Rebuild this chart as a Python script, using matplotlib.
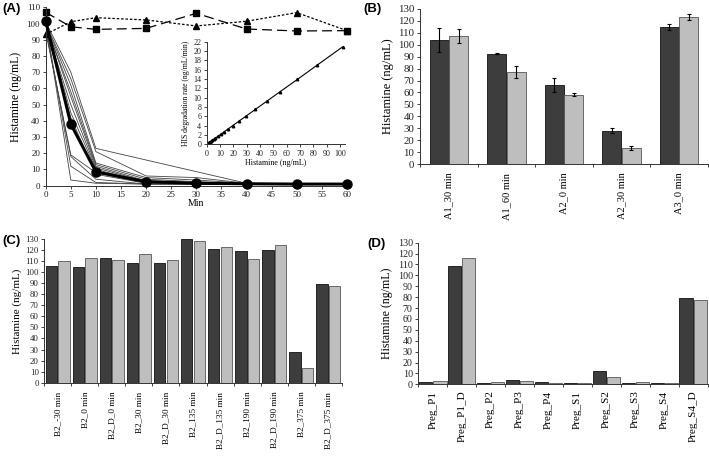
import numpy as np
import matplotlib
matplotlib.use("Agg")
import matplotlib.pyplot as plt

plt.rcParams['font.family'] = ['Liberation Serif', 'DejaVu Serif']
plt.rcParams['axes.linewidth'] = 0.7
plt.rcParams['axes.edgecolor'] = '#333333'

# ---- panel A: degradation time course ----
minutes = [0, 5, 10, 20, 30, 40, 50, 60]
ctrl_square = [106.9, 98.0, 96.4, 97.0, 106.3, 96.6, 95.4, 95.6]
ctrl_triangle = [93.3, 101.1, 103.6, 102.2, 98.5, 101.4, 106.7, 95.6]
mean_curve = [101.5, 38.0, 8.5, 2.5, 1.5, 1.2, 1.0, 1.0]
thin_times = [
    [0, 5, 10, 40, 50, 60],
    minutes, minutes, minutes, minutes, minutes,
    minutes, minutes, minutes, minutes, minutes, minutes,
]
thin_values = [
    [101, 70, 23, 1.5, 1.0, 1.0],
    [100, 66, 21, 6, 5, 1.5, 1.0, 1.0],
    [100, 62, 14, 5, 3.5, 1.5, 1.0, 1.0],
    [99, 58, 13, 4, 2.5, 1.2, 1.0, 1.0],
    [100, 55, 12, 3, 2, 1.0, 1.0, 1.0],
    [98, 50, 11, 2.5, 1.5, 1.0, 1.0, 1.0],
    [100, 45, 10, 2, 1.2, 1.0, 1.0, 1.0],
    [97, 42, 7, 1.5, 1.0, 1.0, 1.0, 1.0],
    [95, 19, 8, 1.5, 1.0, 1.0, 1.0, 1.0],
    [96, 18, 4, 1.0, 1.0, 1.0, 1.0, 1.0],
    [100, 12, 2, 1.0, 1.0, 1.0, 1.0, 1.0],
    [101, 3.5, 1.5, 1.0, 1.0, 1.0, 1.0, 1.0],
]
# inset: degradation rate vs histamine
inset_his = [0.3, 0.6, 1.0, 1.5, 2.0, 2.6, 3.3, 4.2, 5.2, 6.5, 8.3, 10.4, 13.0,
             16.0, 19.5, 24.0, 29.5, 36.5, 45.0, 55.0, 68.0, 83.0, 102.0]
inset_rate = [0.06, 0.12, 0.2, 0.3, 0.4, 0.53, 0.67, 0.86, 1.06, 1.33, 1.7, 2.13, 2.66,
              3.28, 4.0, 4.92, 6.05, 7.48, 9.22, 11.27, 13.9, 17.0, 20.9]

# ---- panel B ----
b_labels = ["A1_30 min", "A1_60 min", "A2_0 min", "A2_30 min", "A3_0 min"]
b_dark = [103.8, 92.4, 66.0, 28.1, 115.0]
b_dark_err = [10.0, 0.5, 5.7, 2.0, 2.5]
b_light = [107.2, 77.1, 58.2, 13.9, 123.1]
b_light_err = [5.6, 4.7, 1.0, 1.8, 2.2]

# ---- panel C ----
c_labels = ["B2_-30 min", "B2_0 min", "B2_D_0 min", "B2_30 min", "B2_D_30 min",
            "B2_135 min", "B2_D_135 min", "B2_190 min", "B2_D_190 min",
            "B2_375 min", "B2_D_375 min"]
c_dark = [105.9, 104.4, 112.5, 108.3, 108.0, 129.7, 121.0, 119.5, 119.8, 28.1, 89.3]
c_light = [110.4, 113.1, 111.3, 116.7, 110.7, 128.5, 123.1, 112.2, 124.9, 13.6, 87.5]

# ---- panel D ----
d_labels = ["Preg_P1", "Preg_P1_D", "Preg_P2", "Preg_P3", "Preg_P4",
            "Preg_S1", "Preg_S2", "Preg_S3", "Preg_S4", "Preg_S4_D"]
d_dark = [1.8, 108.9, 1.5, 4.3, 2.1, 1.2, 12.2, 1.5, 1.2, 78.9]
d_light = [2.8, 115.9, 1.8, 3.4, 1.2, 1.5, 6.7, 2.1, 1.2, 77.4]

DARK = '#3d3d3d'
LIGHT = '#bebebe'
W, H = 709, 458

fig = plt.figure(figsize=(7.09, 4.58), dpi=100)


def box(left, top, right, bottom):
    return [left / W, 1 - bottom / H, (right - left) / W, (bottom - top) / H]


def style(ax, size):
    for s in ['top', 'right']:
        ax.spines[s].set_visible(False)
    ax.tick_params(labelsize=size, length=2.5, width=0.6, pad=1.5, colors='#222222')


def bar_panel(ax, labels, dark, light, width, offset, tick_size, lab_size,
              dark_err=None, light_err=None, pad=5):
    x = np.arange(len(labels))
    ax.bar(x - offset, dark, width, color=DARK, edgecolor='#111111', lw=0.6,
           yerr=dark_err, error_kw=dict(lw=0.8, capsize=1.5, capthick=0.8))
    ax.bar(x + offset, light, width, color=LIGHT, edgecolor='#555555', lw=0.6,
           yerr=light_err, error_kw=dict(lw=0.8, capsize=1.5, capthick=0.8))
    ax.set_xlim(-0.5, len(labels) - 0.5)
    ax.set_ylim(0, 130)
    ax.set_yticks(range(0, 131, 10))
    ax.set_xticks(np.arange(len(labels) + 1) - 0.5)
    ax.set_xticklabels([])
    ax.set_xticks(x, minor=True)
    ax.set_xticklabels(labels, minor=True, rotation=90, fontsize=lab_size)
    style(ax, tick_size)
    ax.tick_params(axis='x', which='minor', length=0, pad=pad)


# panel A
axA = fig.add_axes(box(45.7, 7.3, 347, 185.7))
for t, v in zip(thin_times, thin_values):
    axA.plot(t, v, color='#444444', lw=0.6)
axA.plot(minutes, ctrl_square, color='black', lw=0.9, ls=(0, (8, 4)),
         marker='s', ms=4.5, clip_on=False)
axA.plot(minutes, ctrl_triangle, color='black', lw=0.9, ls=(0, (2, 1.5)),
         marker='^', ms=4, clip_on=False)
axA.plot(minutes, mean_curve, color='black', lw=2.2, marker='o', ms=6.5,
         clip_on=False, zorder=5)
axA.set_xlim(0, 60)
axA.set_ylim(0, 110)
axA.set_xticks(range(0, 61, 5))
axA.set_yticks(range(0, 111, 10))
style(axA, 6.5)
axA.set_xlabel("Min", fontsize=7, labelpad=0)
axA.set_ylabel("Histamine (ng/mL)", fontsize=8.5, labelpad=3)

axI = fig.add_axes(box(206.7, 41.7, 345.3, 144.3))
axI.patch.set_alpha(0)
axI.plot(inset_his, inset_rate, color='black', lw=0.8, marker='^', ms=1.8)
axI.set_xlim(0, 104)
axI.set_ylim(0, 22)
axI.set_xticks(range(0, 101, 10))
axI.set_yticks(range(0, 23, 2))
style(axI, 5.8)
axI.set_xlabel("Histamine (ng/mL)", fontsize=5.8, labelpad=1)
axI.set_ylabel("HIS degradation rate (ng/mL/min)", fontsize=5.5, labelpad=2)

# panel B
axB = fig.add_axes(box(420, 8.7, 708, 164.3))
bar_panel(axB, b_labels, b_dark, b_light, 0.33, 0.17, 7.8, 7.5,
          b_dark_err, b_light_err, pad=6)
axB.set_ylabel("Histamine (ng/mL)", fontsize=9, labelpad=3)

# panel C
axC = fig.add_axes(box(44.3, 239, 341.7, 382.7))
bar_panel(axC, c_labels, c_dark, c_light, 0.43, 0.235, 6.3, 6.6, pad=6.5)
axC.set_ylabel("Histamine (ng/mL)", fontsize=8, labelpad=2)

# panel D
axD = fig.add_axes(box(418.3, 242.7, 707.7, 384.3))
bar_panel(axD, d_labels, d_dark, d_light, 0.45, 0.25, 7.2, 8, pad=4.5)
axD.set_ylabel("Histamine (ng/mL)", fontsize=8.6, labelpad=3)

for lbl, px, py in [("(A)", 2, 9), ("(B)", 363, 9), ("(C)", 2, 241), ("(D)", 367, 244)]:
    fig.text(px / W, 1 - py / H, lbl, family='Liberation Sans', weight='bold',
             fontsize=9.5, va='center', ha='left')

fig.savefig("out.png", dpi=100)
